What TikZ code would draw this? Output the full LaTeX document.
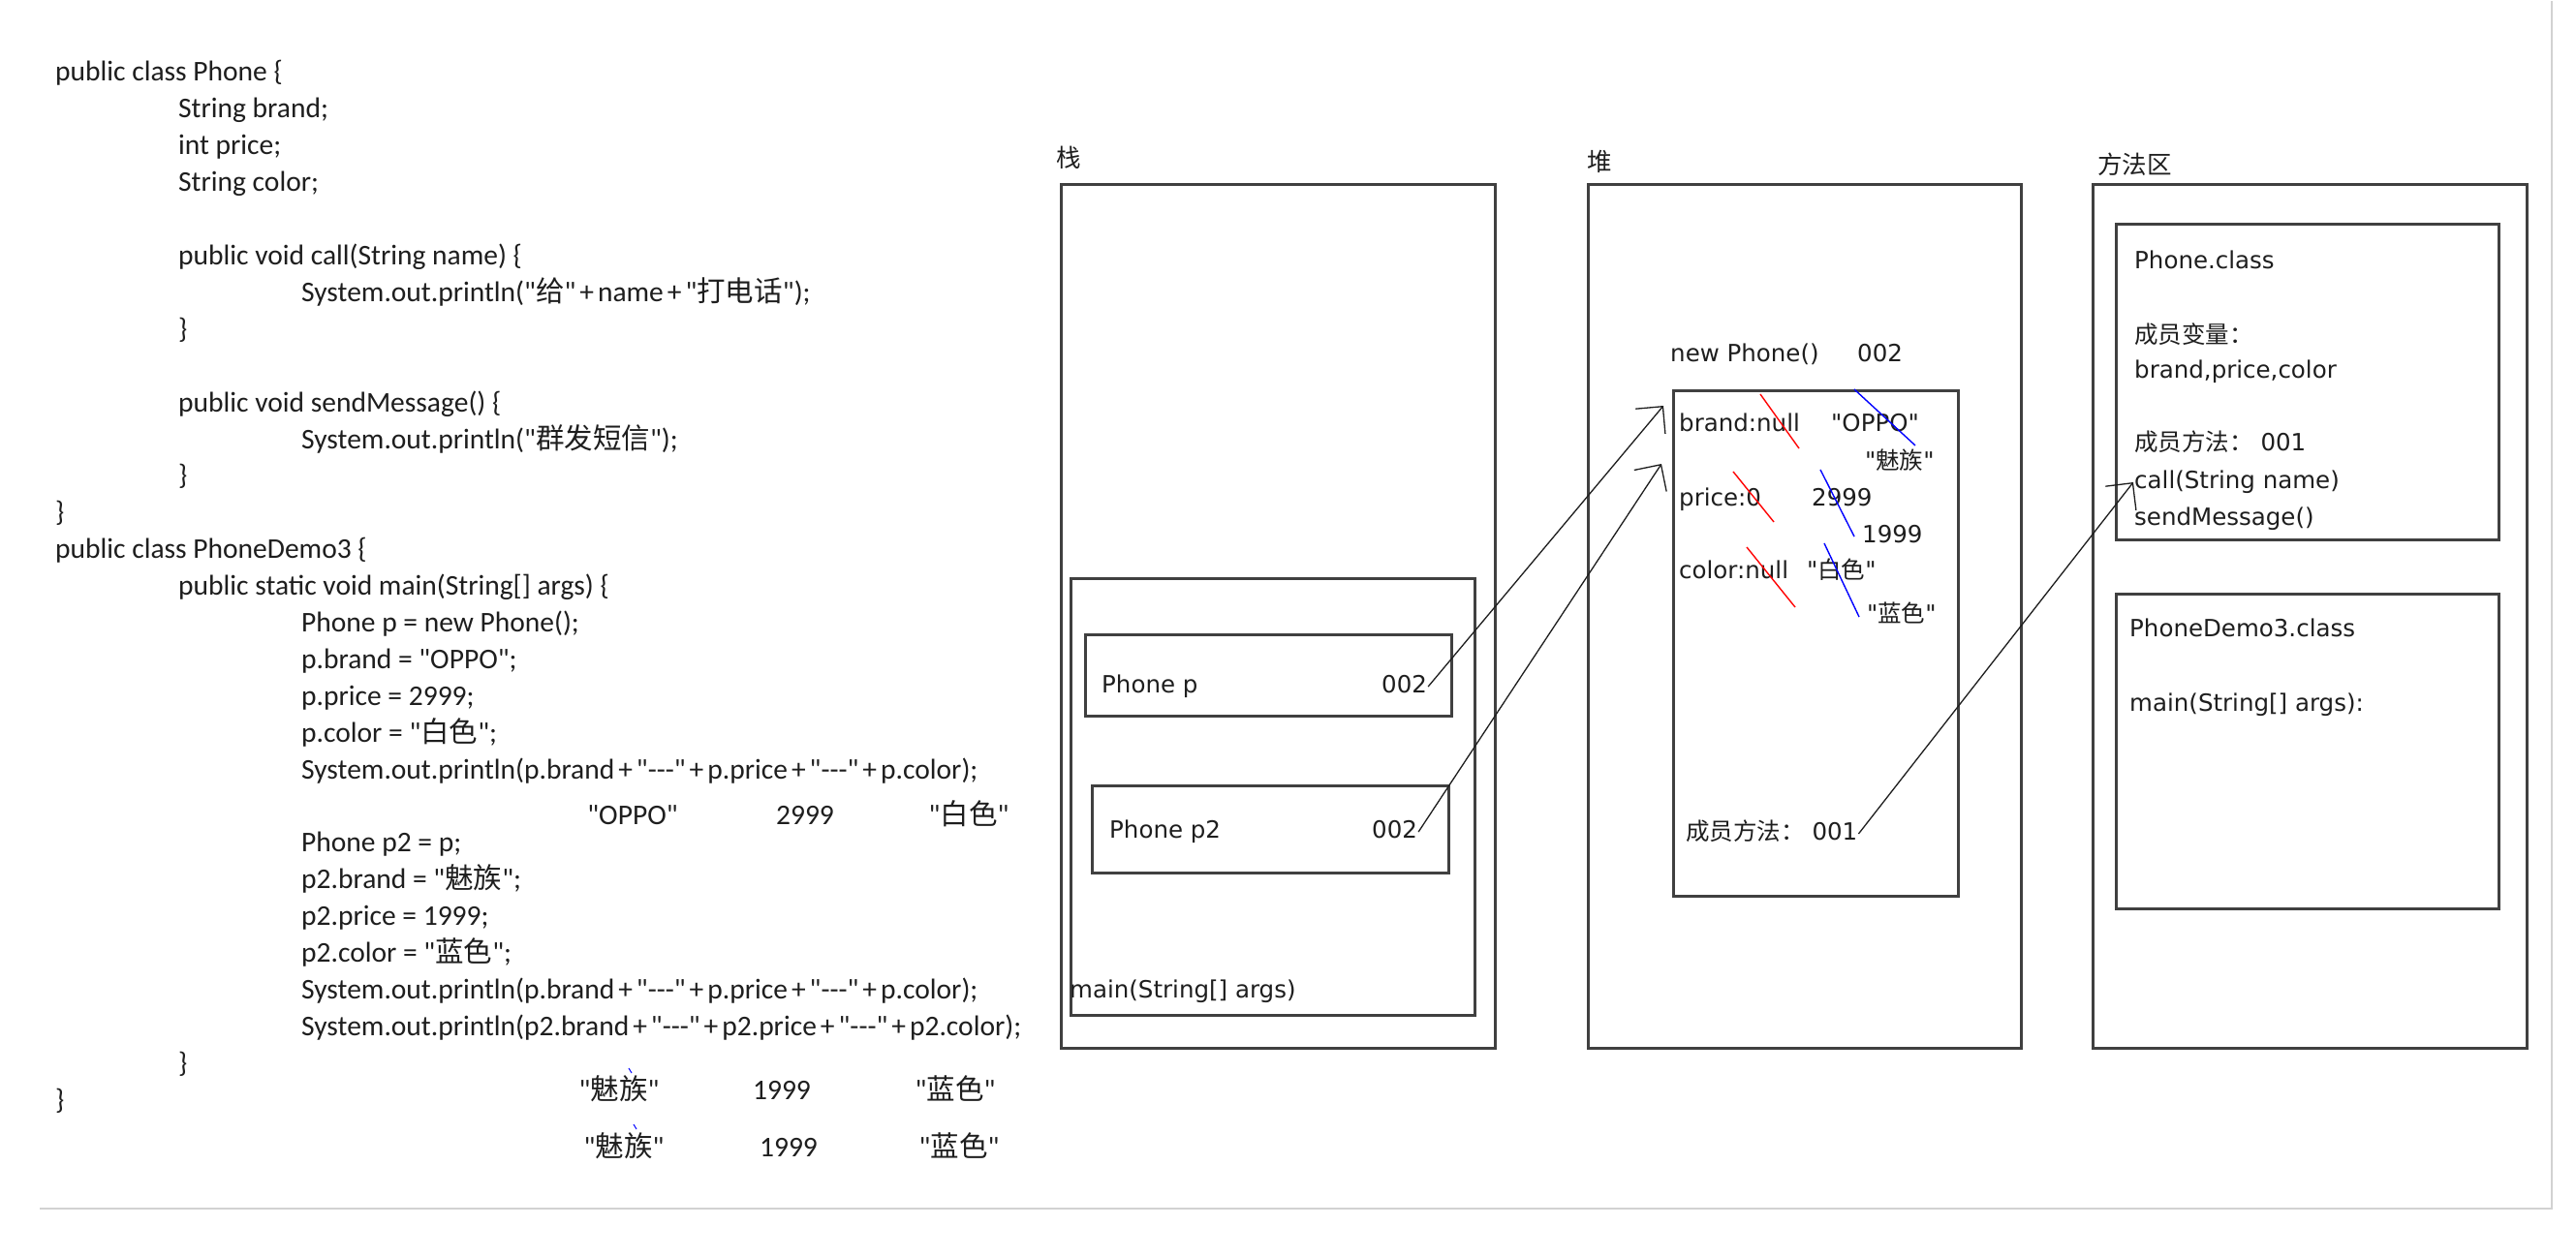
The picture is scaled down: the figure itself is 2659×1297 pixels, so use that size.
\documentclass[tikz,border=0pt]{standalone}
\usepackage{fontspec}
\usepackage{xcolor}
\usetikzlibrary{%
  arrows.meta,
  positioning
}
\newfontfamily\codefont{Carlito}[Ligatures=TeXOff]
\newfontfamily\boxfont{DejaVu Sans}[Ligatures=TeXOff]
\newfontfamily\cjk{Noto Sans CJK SC}
\newcommand{\zh}[1]{{\cjk #1}}
\newcommand{\plus}{\kern4pt+\kern4pt}
\definecolor{boxgray}{HTML}{404040}
\definecolor{ink}{HTML}{1E1E1E}
\definecolor{rim}{HTML}{D2D2D2}

\begin{document}
\begin{tikzpicture}[x=1pt,y=-1pt,
  code/.style={anchor=west,inner sep=1pt,text=ink,
    font=\codefont\fontsize{29.5}{35}\selectfont,text height=21pt,text depth=7pt},
  lbl/.style={anchor=west,inner sep=1pt,text=ink,
    font=\boxfont\fontsize{24.5}{29}\selectfont,text height=18pt,text depth=6pt},
  area/.style={draw=boxgray,line width=2.6pt,anchor=north west,inner sep=0pt},
  ref/.style={draw=ink,line width=1.3pt,
    -{Straight Barb[length=20pt,width=40pt,line width=1.3pt]}},
  strike/.style={line width=1.4pt}]
  \path[fill=white] (0,0) rectangle (2659,1297);
  \draw[rim,line width=2pt] (41,1247) -- (2634,1247) -- (2634,0);

  % source code
  \foreach \ln/\lvl/\txt in {
    0/0/{public class Phone \{},
    1/1/{String brand;},
    2/1/{int price;},
    3/1/{String color;},
    5/1/{public void call(String name) \{},
    6/2/{System.out.println("\zh{给}"\plus name\plus"\zh{打电话}");},
    7/1/{\}},
    9/1/{public void sendMessage() \{},
    10/2/{System.out.println("\zh{群发短信}");},
    11/1/{\}},
    12/0/{\}},
    13/0/{public class PhoneDemo3 \{},
    14/1/{public static void main(String[] args) \{},
    15/2/{Phone p = new Phone();},
    16/2/{p.brand = "OPPO";},
    17/2/{p.price = 2999;},
    18/2/{p.color = "\zh{白色}";},
    19/2/{System.out.println(p.brand\plus"---"\plus p.price\plus"---"\plus p.color);},
    21/2/{Phone p2 = p;},
    22/2/{p2.brand = "\zh{魅族}";},
    23/2/{p2.price = 1999;},
    24/2/{p2.color = "\zh{蓝色}";},
    25/2/{System.out.println(p.brand\plus"---"\plus p.price\plus"---"\plus p.color);},
    26/2/{System.out.println(p2.brand\plus"---"\plus p2.price\plus"---"\plus p2.color);},
    27/1/{\}},
    28/0/{\}}} {
    \node[code] (line\ln) at (56+127*\lvl,76+37.9*\ln) {\txt};
  }

  % printed results
  \node[code,anchor=center] (outA1) at (653,843) {"OPPO"};
  \node[code,anchor=center] (outA2) at (831,843) {2999};
  \node[code,anchor=center] (outA3) at (1000,843) {"\zh{白色}"};
  \node[code,anchor=center] (outB1) at (639,1127) {"\zh{魅族}"};
  \node[code,anchor=center] (outB2) at (807,1127) {1999};
  \node[code,anchor=center] (outB3) at (986,1127) {"\zh{蓝色}"};
  \node[code,anchor=center] (outC1) at (644,1186) {"\zh{魅族}"};
  \node[code,anchor=center] (outC2) at (814,1186) {1999};
  \node[code,anchor=center] (outC3) at (990,1186) {"\zh{蓝色}"};
  \draw[blue,line width=1pt] (649,1102) -- (652,1107);
  \draw[blue,line width=1pt] (654,1160) -- (657,1165);

  % stack
  \node[lbl,font=\cjk\fontsize{25.5}{30}\selectfont] (stackT) at (1089,165) {栈};
  \node[area,minimum width=448pt,minimum height=892pt] (stack) at (1094,188) {};
  \node[area,minimum width=417pt,minimum height=451pt] (mainFrame) at (1104,595) {};
  \node[area,minimum width=378pt,minimum height=84pt] (pBox) at (1119,653) {};
  \node[area,minimum width=368pt,minimum height=90pt] (p2Box) at (1126,809) {};
  \node[lbl] (pName) at (1136,708) {Phone p};
  \node[lbl] (pAddr) at (1425,708) {002};
  \node[lbl] (p2Name) at (1144,858) {Phone p2};
  \node[lbl] (p2Addr) at (1415,858) {002};
  \node[lbl] (mainName) at (1103,1023) {main(String[] args)};

  % heap
  \node[lbl,font=\cjk\fontsize{25.5}{30}\selectfont] (heapT) at (1637,169) {堆};
  \node[area,minimum width=447pt,minimum height=892pt] (heap) at (1638,188) {};
  \node[lbl] (newP) at (1723,366) {new Phone()};
  \node[lbl] (newAddr) at (1916,366) {002};
  \node[area,minimum width=294pt,minimum height=522pt] (obj) at (1726,401) {};
  \node[lbl] (brandF) at (1732,438) {brand:null};
  \node[lbl] (brandA) at (1889,438) {"OPPO"};
  \node[lbl] (brandB) at (1924,477) {"\zh{魅族}"};
  \node[lbl] (priceF) at (1732,515) {price:0};
  \node[lbl] (priceA) at (1869,515) {2999};
  \node[lbl] (priceB) at (1921,553) {1999};
  \node[lbl] (colorF) at (1732,590) {color:null};
  \node[lbl] (colorA) at (1864,590) {"\zh{白色}"};
  \node[lbl] (colorB) at (1926,635) {"\zh{蓝色}"};
  \node[lbl] (objFun) at (1739,860) {\zh{成员方法：} 001};
  \draw[red,strike] (1817,406) -- (1857,462);
  \draw[red,strike] (1789,486) -- (1831,538);
  \draw[red,strike] (1803,564) -- (1853,626);
  \draw[blue,strike] (1914,401) -- (1977,459);
  \draw[blue,strike] (1879,484) -- (1914,553);
  \draw[blue,strike] (1883,560) -- (1919,636);

  % method area
  \node[lbl,font=\cjk\fontsize{25.5}{30}\selectfont] (methT) at (2164,172) {方法区};
  \node[area,minimum width=448pt,minimum height=892pt] (methods) at (2159,188) {};
  \node[area,minimum width=395pt,minimum height=326pt] (phoneCls) at (2183,229) {};
  \node[area,minimum width=395pt,minimum height=325pt] (demoCls) at (2183,611) {};
  \node[lbl] (clsName) at (2202,270) {Phone.class};
  \node[lbl] (memVar) at (2202,347) {\zh{成员变量：}};
  \node[lbl] (varList) at (2202,383) {brand,price,color};
  \node[lbl] (memFun) at (2202,458) {\zh{成员方法：} 001};
  \node[lbl] (callM) at (2202,497) {call(String name)};
  \node[lbl] (sendM) at (2202,535) {sendMessage()};
  \node[lbl] (demoName) at (2197,650) {PhoneDemo3.class};
  \node[lbl] (demoMain) at (2197,727) {main(String[] args):};

  % references
  \coordinate (tipA) at (1717,418);
  \coordinate (tipB) at (1715,478);
  \draw[ref] (pAddr.east) -- (tipA);
  \draw[ref] (p2Addr.east) -- (tipB);
  \draw[ref] (objFun.east) -- (callM.west);
\end{tikzpicture}
\end{document}
